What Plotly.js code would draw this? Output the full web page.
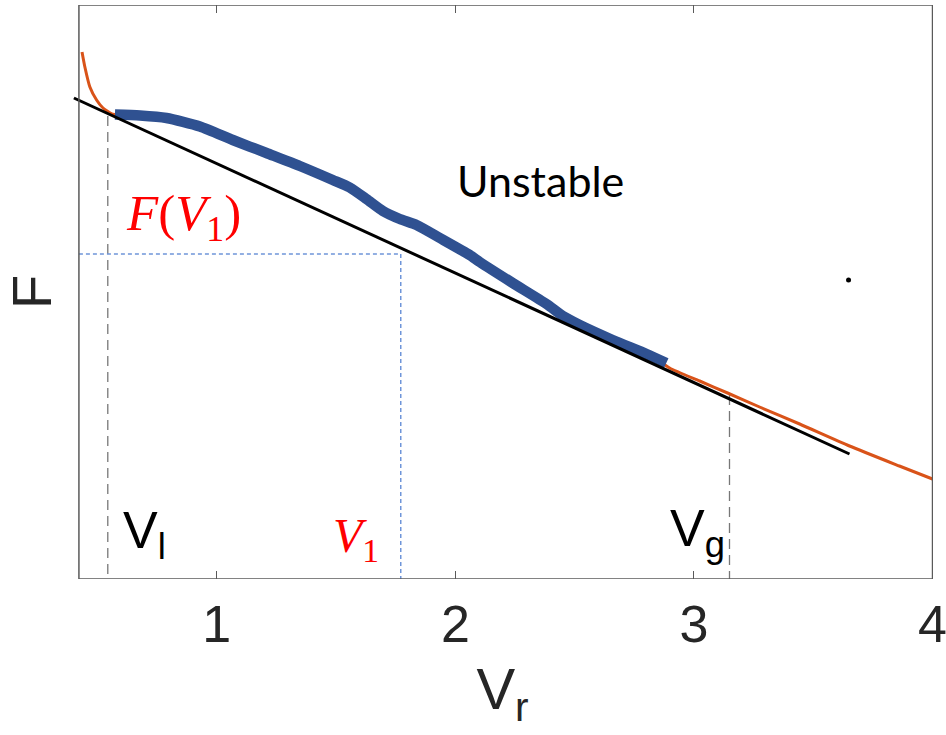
<!DOCTYPE html>
<html>
<head>
<meta charset="utf-8">
<script src="https://cdn.plot.ly/plotly-3.0.1.min.js"></script>
<style>
  html, body { margin: 0; padding: 0; background: #ffffff; }
  #chart { width: 946px; height: 735px; }
</style>
</head>
<body>
<div id="chart"></div>
<script>
// Free-energy curve F(V_r), its stable part, and the common tangent
const curveVr = [0.435, 0.447, 0.468, 0.496, 0.523, 0.560, 0.573, 0.678, 0.789, 0.929,
                 1.067, 1.208, 1.348, 1.486, 1.557, 1.627, 1.696, 1.767, 1.837, 1.935,
                 2.060, 2.102, 2.240, 2.382, 2.450, 2.521, 2.659, 2.801, 2.898, 3.024,
                 3.141, 3.275, 3.443, 3.652, 3.861, 4.000];
const curveF  = [5.27, 5.12, 4.92, 4.79, 4.71, 4.65, 4.645, 4.635, 4.61, 4.525,
                 4.39, 4.26, 4.13, 3.99, 3.90, 3.77, 3.66, 3.59, 3.54, 3.41,
                 3.24, 3.17, 2.96, 2.75, 2.64, 2.56, 2.41, 2.27, 2.11, 1.98,
                 1.86, 1.72, 1.55, 1.33, 1.13, 1.00];

const stableVr = [0.573, 0.678, 0.789, 0.929, 1.067, 1.208, 1.348, 1.486, 1.557, 1.627,
                  1.696, 1.767, 1.837, 1.935, 2.060, 2.102, 2.240, 2.382, 2.450, 2.521,
                  2.659, 2.801, 2.884];
const stableF  = [4.645, 4.635, 4.61, 4.525, 4.39, 4.26, 4.13, 3.99, 3.915, 3.80,
                  3.68, 3.60, 3.54, 3.41, 3.24, 3.17, 2.96, 2.75, 2.63, 2.54,
                  2.39, 2.25, 2.16];

const tangentVr = [0.401, 3.652];
const tangentF  = [4.81, 1.25];

const strayVr = [3.648];
const strayF  = [2.99];

// Marked volumes and the free energy at V1
const Vl = 0.543, Vl_F = 4.63;
const Vg = 3.149, Vg_F = 1.84;
const V1 = 1.771, F_V1 = 3.25;

const xTicks = [1, 2, 3, 4];
const xBox = [0.422, 4.0];
const yBox = [0, 5.74];

const axisGray = '#5a5a5a';
const textDark = '#262626';
const red = '#ff0000';

const traces = [
  {
    x: curveVr, y: curveF, mode: 'lines', type: 'scatter',
    line: {color: '#d95319', width: 3, shape: 'spline', smoothing: 0.6},
    hoverinfo: 'skip'
  },
  {
    x: stableVr, y: stableF, mode: 'lines', type: 'scatter',
    line: {color: '#2f5191', width: 10.5, shape: 'spline', smoothing: 0.6},
    hoverinfo: 'skip'
  },
  {
    x: tangentVr, y: tangentF, mode: 'lines', type: 'scatter',
    line: {color: '#000000', width: 3},
    hoverinfo: 'skip'
  },
  {
    x: strayVr, y: strayF, mode: 'markers', type: 'scatter',
    marker: {color: '#000000', size: 5},
    hoverinfo: 'skip'
  }
];

const shapes = [
  // axes box
  {type: 'rect', xref: 'x', yref: 'y', x0: xBox[0], x1: xBox[1], y0: yBox[0], y1: yBox[1],
   line: {color: axisGray, width: 1.5}, fillcolor: 'rgba(0,0,0,0)', layer: 'above'},
  // V_l and V_g markers
  {type: 'line', xref: 'x', yref: 'y', x0: Vl, x1: Vl, y0: Vl_F, y1: -0.05,
   line: {color: '#777777', width: 1.3, dash: '10px,6px'}, layer: 'below'},
  {type: 'line', xref: 'x', yref: 'y', x0: Vg, x1: Vg, y0: Vg_F, y1: -0.05,
   line: {color: '#777777', width: 1.3, dash: '10px,6px'}, layer: 'below'},
  // F(V1) guide lines
  {type: 'line', xref: 'x', yref: 'y', x0: xBox[0], x1: V1, y0: F_V1, y1: F_V1,
   line: {color: '#6f95d9', width: 1.5, dash: '4px,3px'}, layer: 'below'},
  {type: 'line', xref: 'x', yref: 'y', x0: V1, x1: V1, y0: F_V1, y1: 0,
   line: {color: '#6f95d9', width: 1.5, dash: '4px,3px'}, layer: 'below'}
];

const sansFont = 'Liberation Sans, Arial, sans-serif';
const serifFont = 'Liberation Serif, DejaVu Serif, serif';

const annotations = [
  {x: 2.358, y: 3.99, xref: 'x', yref: 'y', text: 'Unstable', showarrow: false,
   xanchor: 'center', yanchor: 'middle', font: {family: 'Lato, sans-serif', size: 43, color: '#000000'}},
  {x: 0.612, y: 3.62, xref: 'x', yref: 'y', text: '<i>F</i>(<i>V</i><sub>1</sub>)', showarrow: false,
   xanchor: 'left', yanchor: 'middle', font: {family: serifFont, size: 51, color: red}},
  {x: 1.480, y: 0.40, xref: 'x', yref: 'y', text: '<i>V</i><sub>1</sub>', showarrow: false,
   xanchor: 'left', yanchor: 'middle', font: {family: serifFont, size: 48, color: red}},
  {x: 0.600, y: 0.45, xref: 'x', yref: 'y', text: 'V<sub>l</sub>', showarrow: false,
   xanchor: 'left', yanchor: 'middle', font: {family: sansFont, size: 52, color: '#000000'}},
  {x: 2.890, y: 0.47, xref: 'x', yref: 'y', text: 'V<sub>g</sub>', showarrow: false,
   xanchor: 'left', yanchor: 'middle', font: {family: sansFont, size: 52, color: '#000000'}}
];

const layout = {
  width: 946, height: 735,
  margin: {l: 72, r: 13, t: 5, b: 156},
  paper_bgcolor: '#ffffff', plot_bgcolor: '#ffffff',
  showlegend: false,
  xaxis: {
    range: [0.393, 4.002],
    tickvals: xTicks, ticktext: xTicks.map(String),
    ticks: 'inside', ticklen: 8, tickwidth: 1, tickcolor: axisGray,
    mirror: 'ticks', showline: false, showgrid: false, zeroline: false,
    ticklabelstandoff: 10, ticklabeloverflow: 'allow',
    tickfont: {family: sansFont, size: 52, color: textDark},
    title: {text: 'V<sub>r</sub>', font: {family: sansFont, size: 58, color: textDark}, standoff: 16},
    automargin: false, fixedrange: true
  },
  yaxis: {
    range: yBox,
    showticklabels: false, ticks: '', showline: false, showgrid: false, zeroline: false,
    title: {text: 'F', font: {family: sansFont, size: 56, color: textDark}, standoff: 10},
    automargin: false, fixedrange: true
  },
  shapes: shapes,
  annotations: annotations
};

Plotly.newPlot('chart', traces, layout, {staticPlot: true, displayModeBar: false});
</script>
</body>
</html>
